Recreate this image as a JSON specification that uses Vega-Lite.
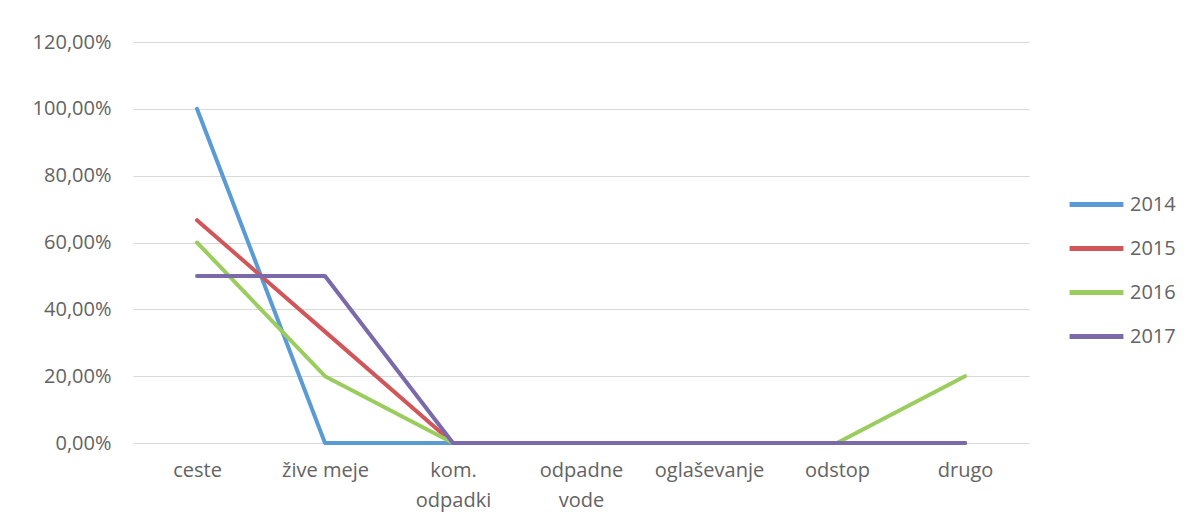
{
  "$schema": "https://vega.github.io/schema/vega-lite/v6.json",
  "width": 896,
  "height": 401,
  "autosize": {"type": "none"},
  "padding": {"left": 133, "top": 42, "right": 164, "bottom": 83},
  "background": "white",
  "config": {
    "locale": {"number": {"decimal": ",", "thousands": ".", "grouping": [3], "currency": ["", " €"]}},
    "view": {"stroke": null},
    "font": "Open Sans"
  },
  "data": {
    "values": [
      {"kategorija": "ceste", "leto": "2014", "delez": 1.0},
      {"kategorija": "žive meje", "leto": "2014", "delez": 0},
      {"kategorija": "kom. odpadki", "leto": "2014", "delez": 0},
      {"kategorija": "odpadne vode", "leto": "2014", "delez": 0},
      {"kategorija": "oglaševanje", "leto": "2014", "delez": 0},
      {"kategorija": "odstop", "leto": "2014", "delez": 0},
      {"kategorija": "drugo", "leto": "2014", "delez": 0},
      {"kategorija": "ceste", "leto": "2015", "delez": 0.6667},
      {"kategorija": "žive meje", "leto": "2015", "delez": 0.3333},
      {"kategorija": "kom. odpadki", "leto": "2015", "delez": 0},
      {"kategorija": "odpadne vode", "leto": "2015", "delez": 0},
      {"kategorija": "oglaševanje", "leto": "2015", "delez": 0},
      {"kategorija": "odstop", "leto": "2015", "delez": 0},
      {"kategorija": "drugo", "leto": "2015", "delez": 0},
      {"kategorija": "ceste", "leto": "2016", "delez": 0.6},
      {"kategorija": "žive meje", "leto": "2016", "delez": 0.2},
      {"kategorija": "kom. odpadki", "leto": "2016", "delez": 0},
      {"kategorija": "odpadne vode", "leto": "2016", "delez": 0},
      {"kategorija": "oglaševanje", "leto": "2016", "delez": 0},
      {"kategorija": "odstop", "leto": "2016", "delez": 0},
      {"kategorija": "drugo", "leto": "2016", "delez": 0.2},
      {"kategorija": "ceste", "leto": "2017", "delez": 0.5},
      {"kategorija": "žive meje", "leto": "2017", "delez": 0.5},
      {"kategorija": "kom. odpadki", "leto": "2017", "delez": 0},
      {"kategorija": "odpadne vode", "leto": "2017", "delez": 0},
      {"kategorija": "oglaševanje", "leto": "2017", "delez": 0},
      {"kategorija": "odstop", "leto": "2017", "delez": 0},
      {"kategorija": "drugo", "leto": "2017", "delez": 0}
    ]
  },
  "mark": {"type": "line", "strokeWidth": 4, "strokeCap": "round", "strokeJoin": "round"},
  "encoding": {
    "x": {
      "field": "kategorija",
      "type": "nominal",
      "sort": ["ceste", "žive meje", "kom. odpadki", "odpadne vode", "oglaševanje", "odstop", "drugo"],
      "scale": {"type": "point", "padding": 0.5},
      "axis": {
        "title": null,
        "labelAngle": 0,
        "domain": false,
        "ticks": false,
        "grid": false,
        "labelFontSize": 20,
        "labelColor": "#636363",
        "labelPadding": 17,
        "labelLineHeight": 30,
        "labelExpr": "(datum.value == 'kom. odpadki' || datum.value == 'odpadne vode') ? split(datum.value, ' ') : datum.value"
      }
    },
    "y": {
      "field": "delez",
      "type": "quantitative",
      "scale": {"domain": [0, 1.2], "nice": false},
      "axis": {
        "title": null,
        "format": ".2%",
        "values": [0, 0.2, 0.4, 0.6, 0.8, 1.0, 1.2],
        "domain": false,
        "ticks": false,
        "labelFontSize": 20,
        "labelColor": "#636363",
        "labelPadding": 22,
        "gridColor": "#d9d9d9",
        "gridWidth": 1
      }
    },
    "color": {
      "field": "leto",
      "type": "nominal",
      "scale": {"domain": ["2014", "2015", "2016", "2017"], "range": ["#5B9BD5", "#D0565A", "#9ACD5E", "#7A6AAA"]},
      "legend": {
        "title": null,
        "orient": "none",
        "legendX": 934,
        "legendY": 133,
        "symbolType": "stroke",
        "symbolSize": 2900,
        "symbolStrokeWidth": 5,
        "labelFontSize": 20,
        "labelColor": "#636363",
        "labelOffset": 4,
        "rowPadding": 4
      }
    },
    "order": {"field": "leto", "type": "nominal"}
  }
}
